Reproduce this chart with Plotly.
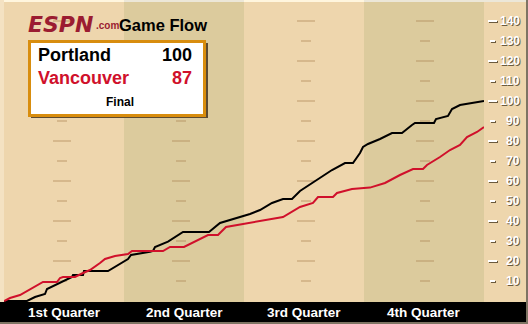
import plotly.graph_objects as go

# ---------------- data ----------------
teams = ["Portland", "Vancouver"]
final_scores = [100, 87]
status = "Final"
quarters = ["1st Quarter", "2nd Quarter", "3rd Quarter", "4th Quarter"]
y_ticks = [10, 20, 30, 40, 50, 60, 70, 80, 90, 100, 110, 120, 130, 140]

# game time (minutes elapsed) and running score
portland_t = [0, 2.3, 3.1, 3.9, 4.1, 4.3, 6.8, 6.9, 7.9, 8.0, 10.4, 12.4, 12.7, 14.6, 14.9, 15.1,
              16.4, 17.9, 20.5, 21.6, 23.6, 24.6, 25.6, 26.8, 27.9, 28.8, 29.6, 31.1, 32.8, 34.1,
              34.9, 35.6, 35.9, 36.4, 37.6, 38.8, 39.8, 40.8, 41.1, 43.0, 43.2, 44.4, 44.8, 45.6,
              47.4, 48.0]
portland_s = [0, 0, 2, 3, 3.5, 6, 12, 13, 13, 15, 15, 21, 23, 24.6, 25, 27,
              29.7, 34.5, 34.5, 39, 42, 43.5, 45.5, 49, 51, 51, 55, 60, 65.5, 69,
              69, 74, 77, 78.5, 81, 84, 84, 88, 89, 89, 91, 92.5, 96, 98,
              99.7, 100]

vancouver_t = [0, 0.6, 1.6, 2.6, 3.3, 3.9, 5.3, 5.6, 5.9, 7.1, 7.9, 8.6, 9.6, 10.1, 11.1, 12.4,
               12.8, 15.9, 16.6, 18.0, 20.4, 21.4, 22.2, 24.6, 26.6, 27.9, 29.6, 30.9, 31.4, 32.9,
               33.3, 34.8, 36.6, 38.1, 39.6, 40.9, 41.9, 42.3, 43.6, 44.6, 45.6, 46.3, 47.3, 48.0]
vancouver_s = [0, 1.5, 3, 6, 8, 9.5, 9.5, 11.5, 12, 12, 14, 15.5, 19, 21, 22.5, 23.5,
               25, 25, 27, 27, 33, 33, 37, 39, 41, 42, 47, 49, 52, 52,
               54, 56, 56.7, 59, 63, 66, 66, 68, 72, 75.5, 78, 82, 84.5, 87]

# ---------------- style ----------------
W, H = 528, 324
LIGHT = "#EED6AD"
DARK = "#DCCB9D"
RED = "#D0102B"
LOGO_RED = "#9B1C31"
SANS = "Liberation Sans, Arial, sans-serif"
PLOT_L, PLOT_R, PLOT_T, PLOT_B = 4, 484, 2, 302


def px(x):
    return x / W


def py(y):
    return 1 - y / H


fig = go.Figure()
fig.add_trace(go.Scatter(x=portland_t, y=portland_s, mode="lines",
                         line=dict(color="#000000", width=2), hoverinfo="skip"))
fig.add_trace(go.Scatter(x=vancouver_t, y=vancouver_s, mode="lines",
                         line=dict(color=RED, width=2), hoverinfo="skip"))

shapes = []
# quarter bands
for q in range(4):
    col = LIGHT if q % 2 == 0 else DARK
    shapes.append(dict(type="rect", xref="x", yref="paper", x0=q * 12, x1=(q + 1) * 12,
                       y0=py(PLOT_B), y1=py(PLOT_T), fillcolor=col, line=dict(width=0), layer="below"))
    top = "#FFF6DE" if q % 2 == 0 else "#ECE7D8"
    shapes.append(dict(type="rect", xref="x", yref="paper", x0=q * 12, x1=(q + 1) * 12,
                       y0=py(PLOT_T), y1=1, fillcolor=top, line=dict(width=0), layer="below"))
# top strip over axis area and left edge
shapes.append(dict(type="rect", xref="paper", yref="paper", x0=px(PLOT_R), x1=1, y0=py(2), y1=1,
                   fillcolor="#ECE7D8", line=dict(width=0), layer="below"))
shapes.append(dict(type="rect", xref="paper", yref="paper", x0=0, x1=px(PLOT_L), y0=0, y1=1,
                   fillcolor="#F4E2C2", line=dict(width=0), layer="below"))

# faint grid dashes in the middle of each quarter
dash_centers = [62, 181, 306, 425]
for cx in dash_centers:
    for v in y_ticks:
        half = 9 if v % 20 == 0 else 5
        shapes.append(dict(type="line", xref="x", yref="y",
                           x0=(cx - half - PLOT_L) / 10, x1=(cx + half - PLOT_L) / 10,
                           y0=v, y1=v, line=dict(color="rgba(170,130,80,0.35)", width=2), layer="below"))

# right axis ticks (with shadow)
for v in y_ticks:
    x0, x1 = (488, 497) if v % 20 == 0 else (490, 495)
    for dx, col in ((1, "#6B5A3E"), (0, "#FFFFFF")):
        shapes.append(dict(type="line", xref="paper", yref="y",
                           x0=px(x0 + dx), x1=px(x1 + dx), y0=v - dx * 0.5, y1=v - dx * 0.5,
                           line=dict(color=col, width=2), layer="above"))

# bottom black bar and frame
shapes.append(dict(type="rect", xref="paper", yref="paper", x0=0, x1=1, y0=py(324), y1=py(322),
                   fillcolor="#7E7463", line=dict(width=0), layer="above"))
shapes.append(dict(type="rect", xref="paper", yref="paper", x0=0, x1=px(526), y0=py(322), y1=py(PLOT_B),
                   fillcolor="#000000", line=dict(width=0), layer="above"))
shapes.append(dict(type="rect", xref="paper", yref="paper", x0=px(526), x1=1, y0=0, y1=1,
                   fillcolor="#7E7463", line=dict(width=0), layer="above"))

# score box: shadow, then white box with orange border
shapes.append(dict(type="rect", xref="paper", yref="paper", x0=px(31), x1=px(208), y0=py(118), y1=py(43),
                   fillcolor="#5C4B32", line=dict(width=0), layer="above"))
shapes.append(dict(type="rect", xref="paper", yref="paper", x0=px(29.5), x1=px(204.5), y0=py(115.5), y1=py(41.5),
                   fillcolor="#FFFFFF", line=dict(color="#D88D0E", width=3), layer="above"))

ann = []
# right axis labels with shadow
for v in y_ticks:
    for dx, col in ((1, "#6B5A3E"), (0, "#FFFFFF")):
        ann.append(dict(xref="paper", yref="y", x=px(522 + dx), y=v - dx * 0.5, text=str(v),
                        xanchor="right", yanchor="middle", showarrow=False,
                        font=dict(family=SANS, size=12, color=col, weight="bold")))
# quarter labels
for q, lab in enumerate(quarters):
    ann.append(dict(xref="x", yref="paper", x=q * 12 + 6, y=py(312.5), text=lab,
                    xanchor="center", yanchor="middle", showarrow=False,
                    font=dict(family=SANS, size=13.5, color="#FFFFFF", weight="bold")))
# header
ann.append(dict(xref="paper", yref="paper", x=px(26), y=py(24), text="<i>ESPN</i>",
                xanchor="left", yanchor="middle", showarrow=False,
                font=dict(family="DejaVu Sans", size=22, color=LOGO_RED, weight="bold")))
ann.append(dict(xref="paper", yref="paper", x=px(94), y=py(33), text=".com",
                xanchor="left", yanchor="bottom", showarrow=False,
                font=dict(family=SANS, size=10, color=LOGO_RED, weight="bold")))
ann.append(dict(xref="paper", yref="paper", x=px(117), y=py(25), text="Game Flow",
                xanchor="left", yanchor="middle", showarrow=False,
                font=dict(family=SANS, size=16.5, color="#000000", weight="bold")))
# score box text
for i, (tm, sc, col) in enumerate(zip(teams, final_scores, ["#000000", RED])):
    yc = 55 + i * 22.5
    ann.append(dict(xref="paper", yref="paper", x=px(36), y=py(yc), text=tm,
                    xanchor="left", yanchor="middle", showarrow=False,
                    font=dict(family=SANS, size=18, color=col, weight="bold")))
    ann.append(dict(xref="paper", yref="paper", x=px(194), y=py(yc), text=str(sc),
                    xanchor="right", yanchor="middle", showarrow=False,
                    font=dict(family=SANS, size=18, color=col, weight="bold")))
ann.append(dict(xref="paper", yref="paper", x=px(120), y=py(102), text=status,
                xanchor="center", yanchor="middle", showarrow=False,
                font=dict(family=SANS, size=12, color="#000000", weight="bold")))

fig.update_layout(
    width=W, height=H, margin=dict(l=0, r=0, t=0, b=0),
    paper_bgcolor=LIGHT, plot_bgcolor="rgba(0,0,0,0)",
    showlegend=False,
    xaxis=dict(domain=[px(PLOT_L), px(PLOT_R)], range=[0, 48], visible=False, fixedrange=True),
    yaxis=dict(domain=[py(PLOT_B), py(PLOT_T)], range=[-0.5, 149.5], visible=False, fixedrange=True),
    shapes=shapes, annotations=ann,
)

fig.write_html("out.html")
